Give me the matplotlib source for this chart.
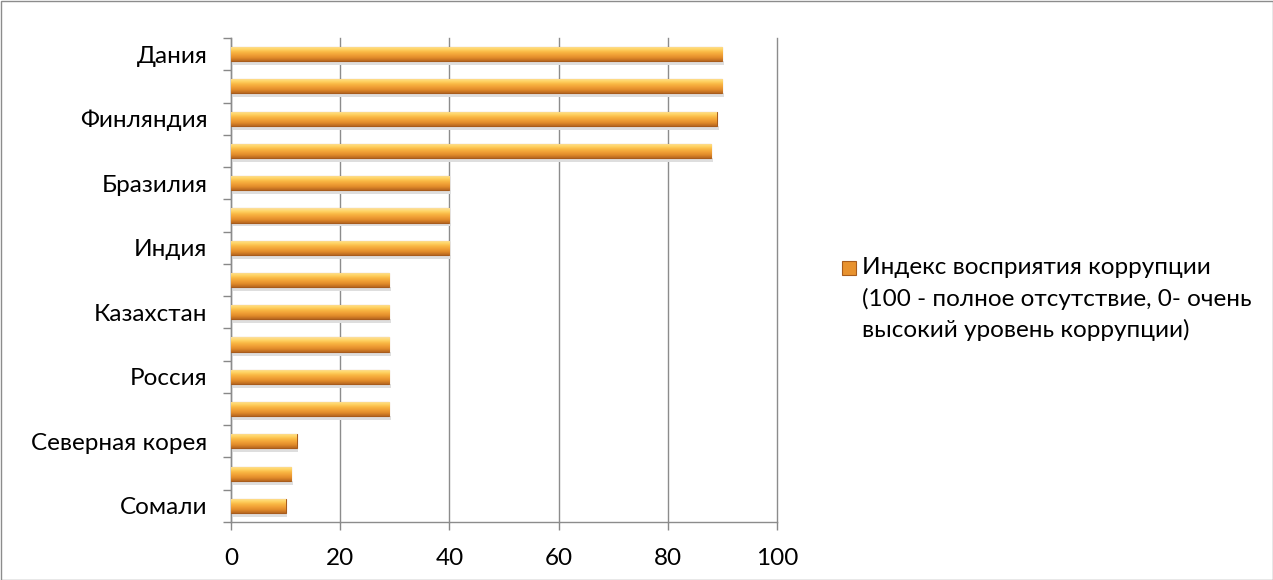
import numpy as np
import matplotlib
matplotlib.use('Agg')
from matplotlib import pyplot as plt
from matplotlib.patches import Rectangle
from matplotlib.colors import LinearSegmentedColormap

plt.rcParams['font.family'] = ['Lato', 'Open Sans', 'DejaVu Sans']

countries = ['Дания', 'Новая Зеландия', 'Финляндия', 'Швеция',
             'Бразилия', 'Китай', 'Индия', 'Украина', 'Казахстан',
             'Иран', 'Россия', 'Непал', 'Северная корея', 'Южный Судан', 'Сомали']
cpi = [90, 90, 89, 88, 40, 40, 40, 29, 29, 29, 29, 29, 12, 11, 10]
shown_labels = ['Дания', 'Финляндия', 'Бразилия', 'Индия',
                'Казахстан', 'Россия', 'Северная корея', 'Сомали']
x_ticks = [0, 20, 40, 60, 80, 100]
legend_text = 'Индекс восприятия коррупции\n(100 - полное отсутствие, 0- очень\nвысокий уровень коррупции)'

# vertical shading of the bars, top -> bottom
bar_cmap = LinearSegmentedColormap.from_list(
    'bar', ['#FCE0A0', '#FFD566', '#F9B743', '#F0A036', '#E0892A', '#B86820'])
grad = np.linspace(0, 1, 64).reshape(-1, 1)

fig = plt.figure(figsize=(12.73, 5.8), dpi=100)
ax = fig.add_axes([231 / 1273, 1 - 522 / 580, (777 - 231) / 1273, (522 - 38) / 580])

y = np.arange(len(countries))
bars = ax.barh(y, cpi, height=0.44, color='#F0A036', edgecolor='#A85C1C', linewidth=0.8, zorder=3)

for b in bars:
    x0, y0 = b.get_x(), b.get_y()
    w, h = b.get_width(), b.get_height()
    # soft shadow below each bar
    ax.add_patch(Rectangle((x0 + 0.3, y0 + h), w, 0.12, color='#DEDEDE', lw=0, zorder=2))
    im = ax.imshow(grad, cmap=bar_cmap, aspect='auto', origin='upper',
                   extent=(x0, x0 + w, y0 + h, y0), zorder=3.5, interpolation='bilinear')
    im.set_clip_path(b)

ax.set_xlim(0, 100)
ax.set_ylim(len(countries) - 0.5, -0.5)

ax.set_xticks(x_ticks)
ax.tick_params(axis='x', length=6, width=1, color='#888888', labelsize=17.5, pad=13)

label_pos = [countries.index(c) for c in shown_labels]
ax.set_yticks(label_pos)
ax.set_yticklabels(shown_labels)
ax.set_yticks(np.arange(-0.5, len(countries)), minor=True)
ax.tick_params(axis='y', which='major', length=0, labelsize=17.5, pad=17)
ax.tick_params(axis='y', which='minor', length=6, width=1, color='#888888')

ax.grid(axis='x', color='#8C8C8C', linewidth=1, zorder=0)
for gl in ax.get_xgridlines():
    gl.set_clip_on(False)
ax.set_axisbelow(True)
for side in ['top', 'right']:
    ax.spines[side].set_visible(False)
for side in ['left', 'bottom']:
    ax.spines[side].set_color('#8C8C8C')
    ax.spines[side].set_linewidth(1)

# legend drawn by hand so the marker sits on the first line
fig.patches.append(Rectangle((842 / 1273, 1 - 275 / 580), 14 / 1273, 14 / 580,
                             transform=fig.transFigure, facecolor='#E8922E',
                             edgecolor='#A85C1C', linewidth=0.8))
fig.text(862 / 1273, 1 - 257 / 580, legend_text, fontsize=17.5, va='top', ha='left',
         linespacing=1.52)

# outer border of the chart area
fig.patches.append(Rectangle((0.5 / 1273, 0.5 / 580), 1 - 1 / 1273, 1 - 1 / 580,
                             transform=fig.transFigure, fill=False,
                             edgecolor='#8C8C8C', linewidth=1))

fig.savefig('out.png', dpi=100)
plt.close(fig)
